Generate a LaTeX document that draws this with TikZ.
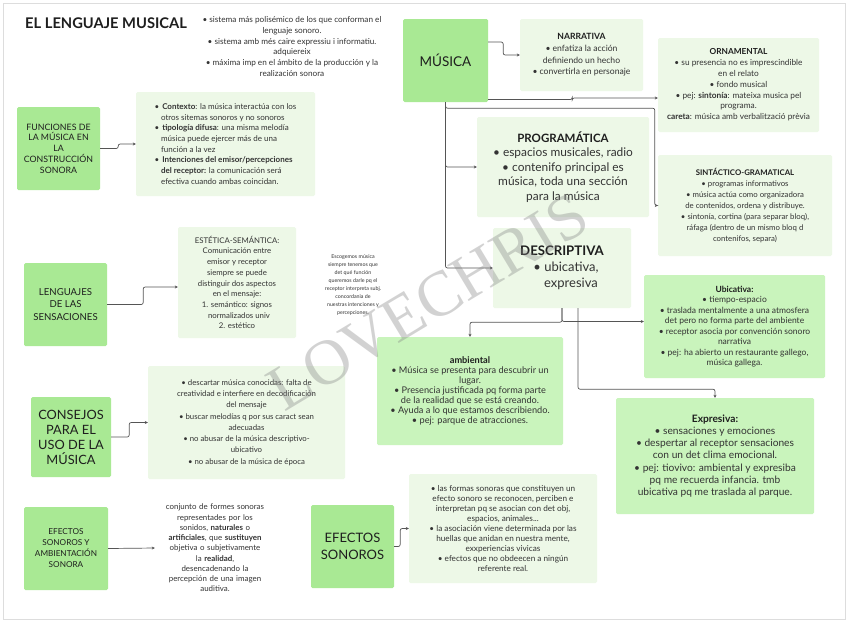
\documentclass[tikz,border=0pt]{standalone}
\usepackage{fontspec}
\setmainfont{Lato}
\newfontfamily\wmfont{Liberation Serif}
\usetikzlibrary{arrows.meta}
\definecolor{dkgreen}{HTML}{A9E994}
\definecolor{mdgreen}{HTML}{C9F4BC}
\definecolor{ltgreen}{HTML}{EDF8E7}
\definecolor{txt}{HTML}{333333}
\definecolor{ttl}{HTML}{1E1E1E}
\definecolor{ln}{HTML}{555555}
\definecolor{frame}{HTML}{DDDDDD}
\begin{document}
\begin{tikzpicture}[x=1pt,y=-1pt,
  box/.style={inner sep=1pt, align=center, text=txt},
  dk/.style={box, fill=dkgreen, rounded corners=1.5pt, text=ttl},
  lt/.style={box, fill=ltgreen, rounded corners=1.5pt},
  md/.style={box, fill=mdgreen, rounded corners=1.5pt},
  fs/.style 2 args={font=\fontsize{#1}{#2}\selectfont},
  conn/.style={draw=ln, line width=0.7pt, rounded corners=2pt, -{Stealth[length=3pt,width=3pt]}}
]
\fill[white] (0,0) rectangle (848,622);
\useasboundingbox (0,0) rectangle (848,622);
\draw[frame, line width=1pt] (3,3) rectangle (845,619);

% title and intro
\node[box, anchor=west, text=ttl, font=\fontsize{14.7}{18}\selectfont\bfseries] (title) at (24,23) {EL LENGUAJE MUSICAL};
\node[box, fs={8.2}{10.9}] (intro) at (292,46.5) {• sistema más polisémico de los que conforman el\\lenguaje sonoro.\\• sistema amb més caire expressiu i informatiu.\\adquiereix\\• máxima imp en el ámbito de la producción y la\\realización sonora};

% funciones
\node[dk, minimum width=83, minimum height=83, fs={8.8}{10.8}] (func) at (58.5,148.5) {FUNCIONES DE\\LA MÚSICA EN\\LA\\CONSTRUCCIÓN\\SONORA};
\node[lt, minimum width=179, minimum height=104, align=left, fs={8}{10.7}] (ctx) at (225.5,144) {•\hspace{3pt}\textbf{Contexto}: la música interactúa con los\\\hspace*{6.5pt}otros sitemas sonoros y no sonoros\\•\hspace{3pt}\textbf{tipología difusa}: una misma melodía\\\hspace*{6.5pt}música puede ejercer más de una\\\hspace*{6.5pt}función a la vez\\•\hspace{3pt}\textbf{Intenciones del emisor/percepciones}\\\hspace*{6.5pt}\textbf{del receptor:} la comunicación será\\\hspace*{6.5pt}efectiva cuando ambas coincidan.};

% música
\node[dk, minimum width=85, minimum height=83, fs={13.5}{16}] (musica) at (445.5,60.5) {MÚSICA};
\node[lt, minimum width=123, minimum height=72, fs={8.6}{11.7}] (narr) at (581.5,55) {\textbf{\color{ttl}NARRATIVA}\\• enfatiza la acción\\definiendo un hecho\\• convertirla en personaje};
\node[lt, minimum width=161, minimum height=94, fs={8.3}{10.8}] (orn) at (738.5,85) {\textbf{\color{ttl}ORNAMENTAL}\\• su presencia no es imprescindible\\en el relato\\• fondo musical\\• pej: \textbf{sintonía}: mateixa musica pel\\programa.\\\textbf{careta}: música amb verbalització prèvia};
\node[lt, minimum width=172, minimum height=100, fs={11.9}{14.6}] (prog) at (563,167) {{\fontsize{11.5}{14.6}\selectfont\bfseries\color{ttl}PROGRAMÁTICA}\\• espacios musicales, radio\\• contenifo principal es\\música, toda una sección\\para la música};
\node[lt, minimum width=174, minimum height=101, fs={7.8}{11}] (sint) at (745,205.5) {\textbf{\color{ttl}SINTÁCTICO-GRAMATICAL}\\• programas informativos\\• música actúa como organizadora\\de contenidos, ordena y distribuye.\\• sintonía, cortina (para separar bloq),\\ráfaga (dentro de un mismo bloq d\\contenifos, separa)};
\node[lt, minimum width=138, minimum height=80, fs={13}{16}] (desc) at (562,268) {{\fontsize{13.2}{16}\selectfont\bfseries\color{ttl}DESCRIPTIVA}\\\hspace*{8pt}• ubicativa,\\\hspace*{18pt}expresiva};
\node[md, minimum width=181, minimum height=103, fs={8.5}{10.5}] (ubic) at (734.5,326.5) {\textbf{\color{ttl}Ubicativa:}\\• tiempo-espacio\\• traslada mentalmente a una atmosfera\\det pero no forma parte del ambiente\\• receptor asocia por convención sonoro\\narrativa\\• pej: ha abierto un restaurante gallego,\\música gallega.};
\node[md, minimum width=186, minimum height=108, fs={9.2}{10.1}] (amb) at (470,391) {\textbf{\color{ttl}ambiental}\\• Música se presenta para descubrir un\\lugar.\\• Presencia justificada pq forma parte\\de la realidad que se está creando.\\• Ayuda a lo que estamos describiendo.\\• pej: parque de atracciones.};
\node[md, minimum width=198, minimum height=116, fs={10.2}{12.3}] (expr) at (715,456) {\textbf{\color{ttl}Expresiva:}\\• sensaciones y emociones\\• despertar al receptor sensaciones\\con un det clima emocional.\\• pej: tiovivo: ambiental y expresiba\\pq me recuerda infancia. tmb\\ubicativa pq me traslada al parque.};

% lenguajes
\node[dk, minimum width=83, minimum height=83, fs={9.6}{12.8}] (leng) at (65.5,304.5) {LENGUAJES\\DE LAS\\SENSACIONES};
\node[lt, minimum width=118, minimum height=111, fs={7.8}{10.7}] (est) at (237,282.5) {ESTÉTICA-SEMÁNTICA:\\Comunicación entre\\emisor y receptor\\siempre se puede\\distinguir dos aspectos\\en el mensaje:\\1. semántico: signos\\\hspace*{4pt}normalizados univ\\2. estético};
\node[box, fs={5.3}{8.1}] (esc) at (353,285) {Escogemos música\\siempre tenemos que\\det qué función\\queremos darle pq el\\receptor interpreta subj.\\concordania de\\nuestras intenciones y\\percepciones.};

% consejos
\node[dk, minimum width=80, minimum height=80, fs={12.8}{15}] (cons) at (71,437) {CONSEJOS\\PARA EL\\USO DE LA\\MÚSICA};
\node[lt, minimum width=197, minimum height=113, fs={7.8}{11.3}] (conslist) at (246.5,422.5) {• descartar música conocidas: falta de\\creatividad e interfiere en decodificación\\del mensaje\\• buscar melodías q por sus caract sean\\adecuadas\\• no abusar de la música descriptivo-\\ubicativo\\• no abusar de la música de época};

% efectos
\node[dk, minimum width=84, minimum height=83, fs={8.2}{11}] (efam) at (66,548.5) {EFECTOS\\SONOROS Y\\AMBIENTACIÓN\\SONORA};
\node[box, fs={7.9}{10.25}, text width=118] (conj) at (215,548) {conjunto de formes sonoras\\representades por los\\sonidos, \textbf{naturales} o\\\textbf{artificiales}, que \textbf{sustituyen}\\objetiva o subjetivamente\\la \textbf{realidad},\\desencadenando la\\percepción de una imagen\\auditiva.};
\node[dk, minimum width=83, minimum height=83, fs={13}{16.7}] (efs) at (352.5,546.5) {EFECTOS\\SONOROS};
\node[lt, minimum width=188, minimum height=109, fs={8.2}{9.9}] (eflist) at (503,528.5) {• las formas sonoras que constituyen un\\efecto sonoro se reconocen, perciben e\\interpretan pq se asocian con det obj,\\espacios, animales...\\• la asociación viene determinada por las\\huellas que anidan en nuestra mente,\\exxperiencias vivicas\\• efectos que no obdeecen a ningún\\referente real.};

% connectors
\draw[conn] (func.east) -- ++(18,0) |- (ctx.west);
\draw[conn] ([yshift=18.5pt]musica.east) -- ++(15,0) |- (narr.west);
\draw[conn] ([yshift=-39pt]musica.east) -- ++(84,0) |- ([yshift=-13pt]orn.west);
\draw[conn] (musica.south) -- ++(0,6) -| ([xshift=-3pt]sint.west) -- (sint.west);
\draw[conn] (musica.south) |- (prog.west);
\draw[conn] (musica.south) |- (desc.west);
\draw[conn] (desc.south) -- ++(0,14) -| (amb.north);
\draw[conn] (desc.south) |- ([yshift=5pt]ubic.west);
\draw[conn] ([xshift=16pt]desc.south) -- ++(0,81) -| (expr.north);
\draw[conn] (leng.east) -- ++(36,0) |- ([yshift=-4.5pt]est.west);
\draw[conn] (cons.east) -- ++(18,0) |- (conslist.west);
\draw[conn] (efam.east) -- (conj.west);
\draw[conn] (efs.east) -- ++(6,0) |- (eflist.west);

% watermark
\node[text=gray, opacity=0.35, rotate=31, font=\wmfont\fontsize{64}{64}\selectfont] (wm) at (428,302) {LOVECHRIS};
\end{tikzpicture}
\end{document}
